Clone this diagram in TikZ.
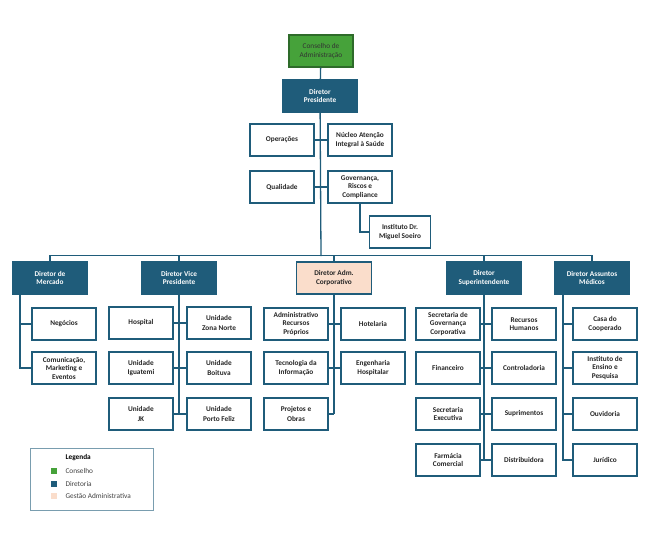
\documentclass[tikz,border=0pt]{standalone}
\usepackage{fontspec}
\setmainfont{Carlito}
\definecolor{dk}{HTML}{1F5C7A}
\definecolor{gr}{HTML}{46A23A}
\definecolor{grb}{HTML}{2E6B2A}
\definecolor{pe}{HTML}{FADDCB}
\begin{document}
\begin{tikzpicture}[x=1pt,y=-1pt,
 box/.style={draw=dk,line width=1.1pt,fill=white,minimum width=64pt,minimum height=32pt,align=center,inner sep=1pt,font=\fontsize{7.3}{8.5}\selectfont\bfseries,text=black!85},
 dir/.style={box,fill=dk,text=white,minimum width=75pt,minimum height=32pt},
 ln/.style={draw=dk,line width=1.3pt}]
\useasboundingbox (0,0) rectangle (650,541);
% top
\node[box,fill=gr,draw=grb,text=black!80,font=\fontsize{7.3}{8.5}\selectfont] (cons) at (321,51) {Conselho de\\Administração};
\node[dir] (pres) at (320,96) {Diretor\\Presidente};
\node[box] (ops) at (282,140) {Operações};
\node[box] (nuc) at (360,140) {Núcleo Atenção\\Integral à Saúde};
\node[box] (qual) at (282,187) {Qualidade};
\node[box] (gov) at (360,187) {Governança,\\Riscos e\\Compliance};
\node[box,minimum width=61pt] (inst) at (400,232) {Instituto Dr.\\Miguel Soeiro};
\coordinate (bar) at (321,256);
\begin{scope}[on background layer/.style={}]
\end{scope}
% directors
\node[dir] (merc) at (50,278) {Diretor de\\Mercado};
\node[dir] (vice) at (179,278) {Diretor Vice\\Presidente};
\node[dir,fill=pe,text=black!85] (adm) at (334,278) {Diretor Adm.\\Corporativo};
\node[dir] (sup) at (484,278) {Diretor\\Superintendente};
\node[dir] (asm) at (592,278) {Diretor Assuntos\\Médicos};
% Mercado
\node[box] (neg) at (64,324) {Negócios};
\node[box] (com) at (64,368) {Comunicação,\\Marketing e\\Eventos};
% Vice
\node[box] (hos) at (141,323) {Hospital};
\node[box] (zn) at (219,323) {Unidade\\[2pt]Zona Norte};
\node[box] (igu) at (141,368) {Unidade\\Iguatemi};
\node[box] (boi) at (219,368) {Unidade\\[2pt]Boituva};
\node[box] (jk) at (141,414) {Unidade\\[2pt]JK};
\node[box] (pf) at (219,414) {Unidade\\[2pt]Porto Feliz};
% Adm
\node[box] (arp) at (296,324) {Administrativo\\Recursos\\Próprios};
\node[box] (hot) at (373,324) {Hotelaria};
\node[box] (ti) at (296,368) {Tecnologia da\\Informação};
\node[box] (eng) at (373,368) {Engenharia\\Hospitalar};
\node[box] (pro) at (296,414) {Projetos e\\[2pt]Obras};
% Super
\node[box] (sgc) at (448,324) {Secretaria de\\Governança\\Corporativa};
\node[box] (rh) at (524,324) {Recursos\\Humanos};
\node[box] (fin) at (448,368) {Financeiro};
\node[box] (ctl) at (524,368) {Controladoria};
\node[box] (sex) at (448,414) {Secretaria\\Executiva};
\node[box] (supr) at (524,414) {Suprimentos};
\node[box] (far) at (448,460) {Farmácia\\Comercial};
\node[box] (dis) at (524,460) {Distribuidora};
% Assuntos
\node[box] (casa) at (605,324) {Casa do\\Cooperado};
\node[box] (iep) at (605,368) {Instituto de\\Ensino e\\Pesquisa};
\node[box] (ouv) at (605,414) {Ouvidoria};
\node[box] (jur) at (605,460) {Jurídico};
% connectors
\begin{scope}[ln]
\draw (cons) -- (pres);
\draw (pres) -- (bar);
\draw (ops) -- (nuc);
\draw (qual) -- (gov);
\draw (gov) |- (inst);
\draw (merc.north) -- ++(0,-6) -| (asm.north);
\draw (vice.north) -- ++(0,-6);
\draw (adm.north) -- ++(0,-6);
\draw (sup.north) -- ++(0,-6);
\coordinate (ms) at (20,294);
\draw (ms) |- (neg); \draw (ms) |- (com);
\coordinate (vs) at (179,414);
\draw (vice) -- (vs);
\draw (hos) -- (zn); \draw (igu) -- (boi); \draw (jk) -- (pf);
\coordinate (as) at (334,414);
\draw (adm) -- (as);
\draw (arp) -- (hot); \draw (ti) -- (eng); \draw (pro) -- (as);
\coordinate (ss) at (484,460);
\draw (sup) -- (ss);
\draw (sgc) -- (rh); \draw (fin) -- (ctl); \draw (sex) -- (supr); \draw (far) -- (dis);
\coordinate (ds) at (563,294);
\draw (ds) |- (casa); \draw (ds) |- (iep); \draw (ds) |- (ouv); \draw (ds) |- (jur);
\end{scope}
% redraw boxes on top of lines
\foreach \n in {hos,zn,igu,boi,jk,pf,arp,hot,ti,eng,pro,sgc,rh,fin,ctl,sex,supr,far,dis,ops,nuc,qual,gov}{}
% legend
\node[draw=dk!60,line width=0.6pt,minimum width=123pt,minimum height=62pt] (leg) at (91.5,479) {};
\node[anchor=west,font=\fontsize{7.3}{8.5}\selectfont\bfseries] (lt) at (62,458) {Legenda};
\node[fill=gr,minimum size=6pt,inner sep=0] (l1) at (54,471) {};
\node[anchor=west,font=\fontsize{7.3}{8.5}\selectfont,text=black!75] (t1) at (62,471) {Conselho};
\node[fill=dk,minimum size=6pt,inner sep=0] (l2) at (54,484) {};
\node[anchor=west,font=\fontsize{7.3}{8.5}\selectfont,text=black!75] (t2) at (62,484) {Diretoria};
\node[fill=pe,minimum size=6pt,inner sep=0] (l3) at (54,496) {};
\node[anchor=west,font=\fontsize{7.3}{8.5}\selectfont,text=black!75] (t3) at (62,496) {Gestão Administrativa};
\end{tikzpicture}
\end{document}
